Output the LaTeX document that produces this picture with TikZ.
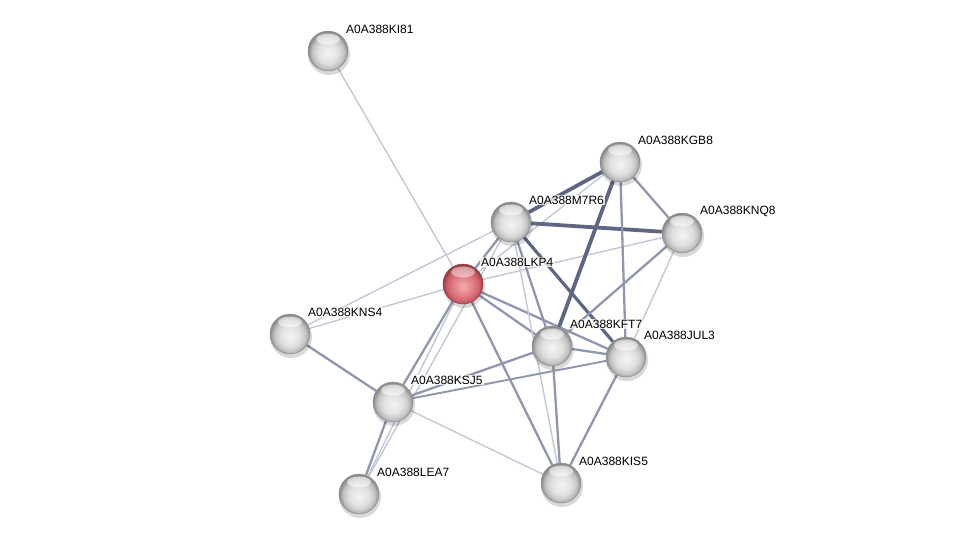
\documentclass[tikz,border=0pt]{standalone}
\usepackage{fontspec}
\setmainfont{Liberation Sans}
\usetikzlibrary{calc}
\definecolor{ethin}{HTML}{C4C7D5}
\definecolor{emed}{HTML}{9096AD}
\definecolor{ethick}{HTML}{5E6684}
\definecolor{gA}{HTML}{F4F4F4}
\definecolor{gB}{HTML}{E0E0E0}
\definecolor{gC}{HTML}{C2C2C2}
\definecolor{gD}{HTML}{8A8A8A}
\definecolor{rA}{HTML}{F5ABAF}
\definecolor{rB}{HTML}{E37F86}
\definecolor{rC}{HTML}{CE6169}
\definecolor{rD}{HTML}{934048}
\pgfdeclareradialshading{graysph}{\pgfqpoint{0bp}{-3bp}}{color(0bp)=(gA); color(13bp)=(gB); color(20bp)=(gC); color(25bp)=(gD); color(50bp)=(gD)}
\pgfdeclareradialshading{redsph}{\pgfqpoint{0bp}{-3bp}}{color(0bp)=(rA); color(12bp)=(rB); color(20bp)=(rC); color(25bp)=(rD); color(50bp)=(rD)}
\pgfdeclarelayer{edges}
\pgfdeclarelayer{shadows}
\pgfsetlayers{edges,shadows,main}
\tikzset{
  sph/.style={circle, minimum size=40pt, inner sep=0pt, draw=black!42, line width=0.5pt, shade},
  gnode/.style={sph, shading=graysph},
  rnode/.style={sph, shading=redsph, draw=rD},
  lbl/.style={anchor=west, font=\fontsize{12}{14}\selectfont, inner sep=1pt, fill=white, fill opacity=0.75, text opacity=1},
  edgeT/.style={draw=ethin, line width=1.4pt},
  edgeM/.style={draw=emed, line width=2.3pt},
  edgeK/.style={draw=ethick, line width=3.8pt},
}
\begin{document}
\begin{tikzpicture}[x=1pt,y=-1pt]
\useasboundingbox (0,0) rectangle (976,539);
% nodes
\node[gnode] (KI81) at (328,51) {};
\node[gnode] (KGB8) at (620,162) {};
\node[gnode] (M7R6) at (511,222) {};
\node[gnode] (KNQ8) at (682,233) {};
\node[rnode] (LKP4) at (463,284) {};
\node[gnode] (KNS4) at (290,334) {};
\node[gnode] (KFT7) at (552,346) {};
\node[gnode] (JUL3) at (626,357) {};
\node[gnode] (KSJ5) at (393,402) {};
\node[gnode] (KIS5) at (561,483) {};
\node[gnode] (LEA7) at (359,494) {};
% shadows and highlights
\begin{pgfonlayer}{shadows}
\foreach \n in {KI81,KGB8,M7R6,KNQ8,LKP4,KNS4,KFT7,JUL3,KSJ5,KIS5,LEA7}{
  \fill[black, opacity=0.15] ($(\n)+(1,3)$) circle [radius=21];
}
\end{pgfonlayer}
\foreach \n in {KI81,KGB8,M7R6,KNQ8,KNS4,KFT7,JUL3,KSJ5,KIS5,LEA7}{
  \fill[white, opacity=0.55] ($(\n)+(0,-12)$) ellipse [x radius=12, y radius=5.5];
}
\fill[white, opacity=0.45] ($(LKP4)+(0,-12)$) ellipse [x radius=12, y radius=5.5];
% edges
\begin{pgfonlayer}{edges}
\draw[edgeT] (KI81) -- (LKP4);
\draw[edgeT] (KNS4) -- (LKP4);
\draw[edgeT] (KNS4) -- (M7R6);
\draw[edgeM] (KNS4) -- (KSJ5);
\draw[edgeM] (LKP4) -- (M7R6);
\draw[edgeT] (M7R6) -- (LEA7);
\draw[edgeM] (LKP4) -- (KSJ5);
\draw[edgeT] (LKP4) -- (LEA7);
\draw[edgeM] (KSJ5) -- (LEA7);
\draw[edgeT] (LKP4) -- (KNQ8);
\draw[edgeT] (LKP4) -- (KGB8);
\draw[edgeM] (LKP4) -- (KFT7);
\draw[edgeM] (LKP4) -- (JUL3);
\draw[edgeM] (LKP4) -- (KIS5);
\draw[edgeK] (M7R6) -- (KGB8);
\draw[edgeK] (M7R6) -- (KNQ8);
\draw[edgeM] (M7R6) -- (KFT7);
\draw[edgeK, line width=3.2pt] (M7R6) -- (JUL3);
\draw[edgeT] (M7R6) -- (KIS5);
\draw[edgeM] (KGB8) -- (KNQ8);
\draw[edgeK] (KGB8) -- (KFT7);
\draw[edgeM] (KGB8) -- (JUL3);
\draw[edgeM] (KNQ8) -- (KFT7);
\draw[edgeT] (KNQ8) -- (JUL3);
\draw[edgeM] (KFT7) -- (JUL3);
\draw[edgeM] (KFT7) -- (KSJ5);
\draw[edgeM] (KFT7) -- (KIS5);
\draw[edgeM, line width=1.9pt] (JUL3) -- (KSJ5);
\draw[edgeM] (JUL3) -- (KIS5);
\draw[edgeT] (KSJ5) -- (KIS5);
\end{pgfonlayer}
% labels
\node[lbl] at ($(KI81)+(17,-22)$) {A0A388KI81};
\node[lbl] at ($(KGB8)+(17,-22)$) {A0A388KGB8};
\node[lbl] at ($(M7R6)+(17,-22)$) {A0A388M7R6};
\node[lbl] at ($(KNQ8)+(17,-22)$) {A0A388KNQ8};
\node[lbl] at ($(LKP4)+(17,-22)$) {A0A388LKP4};
\node[lbl] at ($(KNS4)+(17,-22)$) {A0A388KNS4};
\node[lbl] at ($(KFT7)+(17,-22)$) {A0A388KFT7};
\node[lbl] at ($(JUL3)+(17,-22)$) {A0A388JUL3};
\node[lbl] at ($(KSJ5)+(17,-22)$) {A0A388KSJ5};
\node[lbl] at ($(KIS5)+(17,-22)$) {A0A388KIS5};
\node[lbl] at ($(LEA7)+(17,-22)$) {A0A388LEA7};
\end{tikzpicture}
\end{document}
